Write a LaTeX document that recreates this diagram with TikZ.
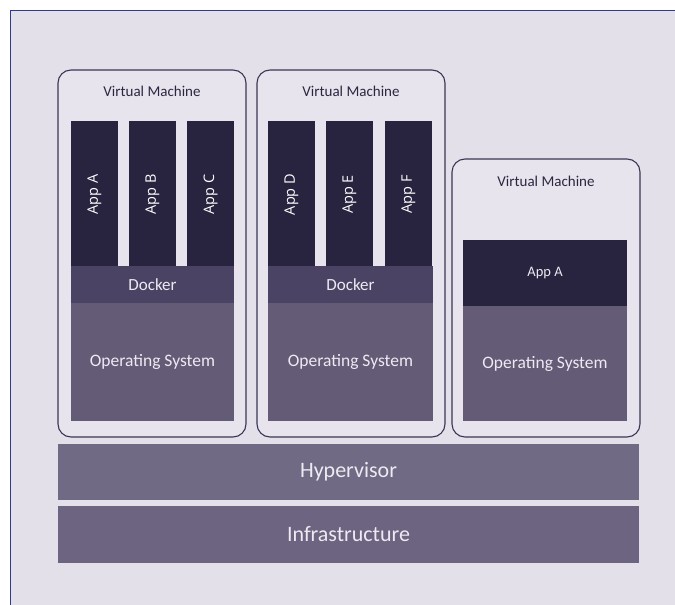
\documentclass[tikz,border=0pt]{standalone}
\usepackage{fontspec}
\setmainfont{Carlito}
\newfontfamily\appfont{Open Sans}
\definecolor{bgcol}{HTML}{E4E0E9}
\definecolor{vmfill}{HTML}{E8E4ED}
\definecolor{vmline}{HTML}{3A3656}
\definecolor{appcol}{HTML}{28233F}
\definecolor{dockercol}{HTML}{4B4363}
\definecolor{oscol}{HTML}{645B77}
\definecolor{hypcol}{HTML}{716A84}
\definecolor{infcol}{HTML}{6C6480}
\definecolor{framecol}{HTML}{2E3A8C}
\definecolor{lighttext}{HTML}{EDEAF2}
\definecolor{titlecol}{HTML}{2B2740}
\begin{document}
\begin{tikzpicture}[x=1pt,y=-1pt,
    box/.style={anchor=north west,inner sep=0pt,outer sep=0pt},
    vm/.style={box,draw=vmline,fill=vmfill,line width=1.1pt,rounded corners=13pt,minimum width=188pt},
    vmtitle/.style={text=titlecol,font=\fontsize{15}{17}\selectfont},
    app/.style={box,fill=appcol,text=white,minimum width=47pt,minimum height=147pt,font=\appfont\fontsize{14.5}{16}\selectfont},
    docker/.style={box,fill=dockercol,text=lighttext,minimum width=163pt,minimum height=37pt,font=\fontsize{17}{20}\selectfont},
    os/.style={box,fill=oscol,text=lighttext,minimum width=163pt,minimum height=118pt,font=\fontsize{17.5}{20}\selectfont},
    layer/.style={box,text=lighttext,minimum width=581pt,minimum height=56pt,font=\fontsize{22}{26}\selectfont}]
  \useasboundingbox (0,0) rectangle (675,605);
  \fill[white] (0,0) rectangle (675,605);
  \fill[bgcol] (10,10) rectangle (675,605);
  \draw[framecol,line width=1pt] (10,605) -- (10,10) -- (675,10);

  % virtual machines
  \node[vm,minimum height=367pt] (vm1) at (58,70) {};
  \node[vm,minimum height=367pt] (vm2) at (257,70) {};
  \node[vm,minimum height=278pt] (vm3) at (452,159) {};
  \node[vmtitle] (t1) at ([yshift=-21pt]vm1.north) {Virtual Machine};
  \node[vmtitle] (t2) at ([yshift=-21pt]vm2.north) {Virtual Machine};
  \node[vmtitle] (t3) at ([yshift=-22pt]vm3.north) {Virtual Machine};

  % apps
  \node[app] (appA) at (71,121) {\rotatebox{90}{App A}};
  \node[app] (appB) at (129,121) {\rotatebox{90}{App B}};
  \node[app] (appC) at (187,121) {\rotatebox{90}{App C}};
  \node[app] (appD) at (268,121) {\rotatebox{90}{App D}};
  \node[app] (appE) at (326,121) {\rotatebox{90}{App E}};
  \node[app] (appF) at (385,121) {\rotatebox{90}{App F}};
  \node[box,fill=appcol,text=lighttext,minimum width=164pt,minimum height=66pt,
    font=\fontsize{14.5}{16}\selectfont] (appX) at (463,240) {App A};

  % docker and os
  \node[docker] (dock1) at (71,266) {Docker};
  \node[docker,minimum width=165pt] (dock2) at (268,266) {Docker};
  \node[os] (os1) at (71,303) {Operating System};
  \node[os,minimum width=165pt] (os2) at (268,303) {Operating System};
  \node[os,minimum width=164pt,minimum height=115pt] (os3) at (463,306) {Operating System};

  % lower layers
  \node[layer,fill=hypcol] (hyp) at (58,444) {Hypervisor};
  \node[layer,fill=infcol,minimum height=57pt] (infra) at (58,506) {Infrastructure};
\end{tikzpicture}
\end{document}
